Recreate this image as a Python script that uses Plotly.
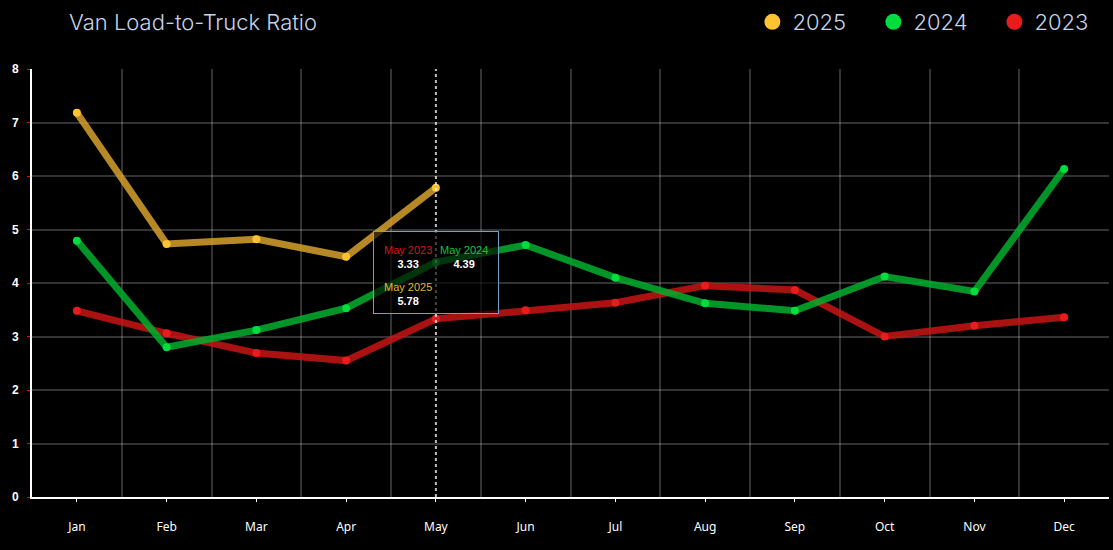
import plotly.graph_objects as go

# dados
meses = ['Jan', 'Feb', 'Mar', 'Apr', 'May', 'Jun', 'Jul', 'Aug', 'Sep', 'Oct', 'Nov', 'Dec']
v2025 = [7.18, 4.73, 4.82, 4.49, 5.78]
v2024 = [4.79, 2.80, 3.12, 3.53, 4.39, 4.71, 4.10, 3.62, 3.48, 4.12, 3.84, 6.13]
v2023 = [3.48, 3.06, 2.69, 2.55, 3.33, 3.49, 3.63, 3.95, 3.87, 3.00, 3.20, 3.36]
yticks = [0, 1, 2, 3, 4, 5, 6, 7, 8]
mes_tooltip = 'May'

idx = list(range(len(meses)))
i_tip = meses.index(mes_tooltip)

series = [
    ('2023', v2023, 'rgba(200,20,20,0.85)', '#e81c1c'),
    ('2024', v2024, 'rgba(0,175,45,0.85)', '#00dd3c'),
    ('2025', v2025, 'rgba(215,160,45,0.85)', '#ffc233'),
]

fig = go.Figure()

for nome, vals, cor_linha, cor_ponto in series:
    fig.add_trace(go.Scatter(
        x=idx[:len(vals)], y=vals, mode='lines+markers', name=nome,
        line=dict(color=cor_linha, width=7),
        marker=dict(color=cor_ponto, size=8),
        showlegend=False,
    ))

# legenda só com círculos
for nome, vals, cor_linha, cor_ponto in reversed(series):
    fig.add_trace(go.Scatter(
        x=[None], y=[None], mode='markers', name=nome,
        marker=dict(color=cor_ponto, size=16),
    ))

# linha pontilhada vertical
fig.add_shape(type='line', x0=i_tip, x1=i_tip, y0=0, y1=1, yref='paper',
              line=dict(color='rgba(255,255,255,0.75)', width=2, dash='dot'))

# caixa do tooltip
y_base = min(v2023[i_tip], v2024[i_tip], v2025[i_tip])
fig.add_annotation(x=i_tip, y=y_base, text='', showarrow=False, yanchor='bottom',
                   yshift=5, width=122, height=79, bgcolor='rgba(0,0,0,0.65)',
                   bordercolor='#6fa3c4', borderwidth=1)

tip_itens = [
    ('2023', v2023[i_tip], '#d4141c', -28, 62),
    ('2024', v2024[i_tip], '#16c23c', 28, 62),
    ('2025', v2025[i_tip], '#e0b63a', -28, 25),
]
for ano, val, cor, dx, dy in tip_itens:
    fig.add_annotation(
        x=i_tip, y=y_base, showarrow=False, xshift=dx, yshift=dy,
        text=f"<span style='color:{cor}'>{mes_tooltip} {ano}</span><br><b>{val:.2f}</b>",
        font=dict(family='Arial', size=11, color='white'), align='center',
    )

fig.update_layout(
    width=1113, height=550,
    paper_bgcolor='black', plot_bgcolor='black',
    margin=dict(l=32, r=4, t=69, b=53),
    title=dict(text='Van Load-to-Truck Ratio', x=0.062, xanchor='left', y=0.96, yanchor='middle',
               font=dict(family='Inter', size=22, color='#c5d3e8', weight=300)),
    legend=dict(orientation='h', xref='container', yref='container',
                x=0.676, xanchor='left', y=0.96, yanchor='middle',
                font=dict(family='Inter', size=22, color='#c5d3e8', weight=300),
                itemsizing='trace', bgcolor='rgba(0,0,0,0)', traceorder='normal',
                entrywidth=76),
    hovermode=False,
)

fig.update_xaxes(
    range=[-0.5, len(meses) - 0.5], tickvals=idx, ticktext=meses,
    showgrid=False, zeroline=False,
    showline=True, linecolor='white', linewidth=2,
    ticks='outside', ticklen=3, tickcolor='white', tickwidth=1,
    ticklabelstandoff=15,
    tickfont=dict(family='Noto Sans', size=12, color='white'),
    minor=dict(tickvals=[i + 0.5 for i in idx], showgrid=True,
               gridcolor='rgba(255,255,255,0.2)', gridwidth=1.5, ticks=''),
)

fig.update_yaxes(
    range=[0, 8], tickvals=yticks, showgrid=True,
    gridcolor='rgba(255,255,255,0.2)', gridwidth=1.5, zeroline=False,
    showline=True, linecolor='white', linewidth=2,
    ticks='outside', ticklen=3, tickcolor='red', tickwidth=1,
    ticklabelstandoff=6,
    tickfont=dict(family='Arial', size=12, color='white', weight='bold'),
)

fig.write_html('out.html', config={'displayModeBar': False},
               post_script="document.body.style.margin='0';")
